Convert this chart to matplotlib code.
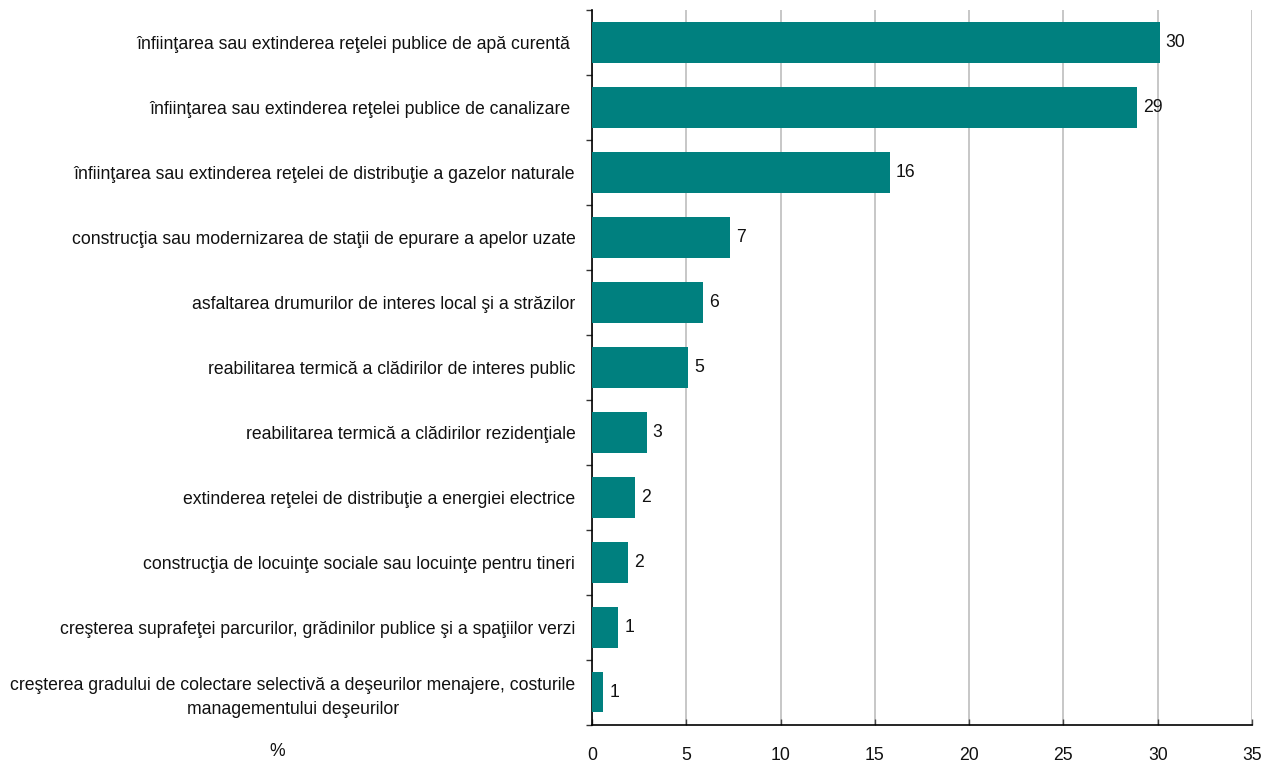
import matplotlib
matplotlib.use("Agg")
import matplotlib.pyplot as plt
import numpy as np

plt.rcParams['font.family'] = ['Liberation Sans Narrow', 'Liberation Sans', 'DejaVu Sans']

categories = [
    "înfiinţarea sau extinderea reţelei publice de apă curentă ",
    "înfiinţarea sau extinderea reţelei publice de canalizare ",
    "înfiinţarea sau extinderea reţelei de distribuţie a gazelor naturale",
    "construcţia sau modernizarea de staţii de epurare a apelor uzate",
    "asfaltarea drumurilor de interes local şi a străzilor",
    "reabilitarea termică a clădirilor de interes public",
    "reabilitarea termică a clădirilor rezidenţiale",
    "extinderea reţelei de distribuţie a energiei electrice",
    "construcţia de locuinţe sociale sau locuinţe pentru tineri",
    "creşterea suprafeţei parcurilor, grădinilor publice şi a spaţiilor verzi",
    "creşterea gradului de colectare selectivă a deşeurilor menajere, costurile\nmanagementului deşeurilor",
]
values = [30.1, 28.9, 15.8, 7.3, 5.9, 5.1, 2.9, 2.3, 1.9, 1.4, 0.6]
x_ticks = [0, 5, 10, 15, 20, 25, 30, 35]
unit_label = "%"

bar_color = "#00807F"
text_color = "#111111"
fs = 12.7

fig = plt.figure(figsize=(12.7, 7.65), dpi=100)
ax = fig.add_axes([592 / 1270, 1 - 724.5 / 765, (1252 - 592) / 1270, (724.5 - 10) / 765])

y = np.arange(len(categories))
ax.barh(y, values, height=0.63, color=bar_color, zorder=3)

for yi, v in zip(y, values):
    ax.text(v + 0.32, yi, f"{v:.0f}", va="center", ha="left", fontsize=fs, color=text_color, zorder=4)

ax.set_xlim(0, 35)
ax.set_ylim(len(categories) - 0.5, -0.5)
ax.set_xticks(x_ticks)
ax.set_xticklabels([str(t) for t in x_ticks], fontsize=fs, color=text_color)
ax.set_yticks(y)
ax.set_yticklabels(categories, fontsize=fs, color=text_color)
for lbl in ax.get_yticklabels():
    lbl.set_multialignment("center")
    lbl.set_linespacing(1.5)

ax.set_yticks(np.arange(-0.5, len(categories), 1.0), minor=True)
ax.tick_params(axis="y", which="major", length=0, pad=12)
ax.tick_params(axis="y", which="minor", length=4, width=1, color="#333333", direction="out")
ax.tick_params(axis="x", which="major", length=4, width=1, color="#444444", direction="in", pad=16)

ax.xaxis.grid(True, color="#bdbdbd", linewidth=1.2, zorder=0)
ax.set_axisbelow(True)

for side in ("top", "right"):
    ax.spines[side].set_visible(False)
for side in ("left", "bottom"):
    ax.spines[side].set_color("black")
    ax.spines[side].set_linewidth(1.2)

fig.text(277 / 1270, 1 - 752 / 765, unit_label, ha="center", va="center", fontsize=fs, color=text_color)

fig.savefig("out.png", dpi=100)
